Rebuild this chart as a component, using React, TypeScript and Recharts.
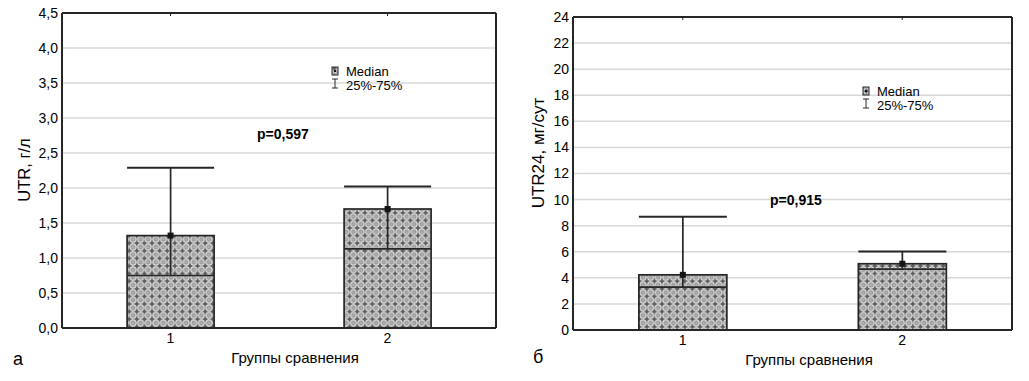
import { Bar, BarChart, CartesianGrid, XAxis, YAxis } from "recharts";

const groups = ["1", "2"];

// UTR, g/l
const utrUpper = [1.32, 1.7];
const utrMedian = [0.75, 1.13];
const utrWhisker = [2.29, 2.02];
const utrTicks = [0, 0.5, 1, 1.5, 2, 2.5, 3, 3.5, 4, 4.5];

// UTR24, mg/day
const utr24Upper = [4.23, 5.08];
const utr24Median = [3.28, 4.67];
const utr24Whisker = [8.69, 6.02];
const utr24Ticks = [0, 2, 4, 6, 8, 10, 12, 14, 16, 18, 20, 22, 24];

const font = "'Liberation Sans', Arial, sans-serif";
const ink = "#262626";
const grid = "#d8d8d8";

type Row = { g: string; upper: number; median: number; whisker: number };

const build = (u: number[], m: number[], w: number[]): Row[] =>
  groups.map((g, i) => ({ g, upper: u[i], median: m[i], whisker: w[i] }));

const comma = (v: number, digits: number) => v.toFixed(digits).replace(".", ",");

function boxShape(patternId: string) {
  return (props: any) => {
    const { x, y, width, height, payload } = props;
    const base = y + height;
    const k = height / payload.upper;
    const yMed = base - payload.median * k;
    const yTop = base - payload.whisker * k;
    const cx = x + width / 2;
    return (
      <g>
        <rect x={x} y={y} width={width} height={height} fill={`url(#${patternId})`} stroke={ink} strokeWidth={1.7} />
        <line x1={x} x2={x + width} y1={yMed} y2={yMed} stroke={ink} strokeWidth={1.7} />
        <line x1={cx} x2={cx} y1={yTop} y2={yMed} stroke={ink} strokeWidth={1.7} />
        <line x1={x} x2={x + width} y1={yTop} y2={yTop} stroke={ink} strokeWidth={2} />
        <rect x={cx - 3} y={y - 3} width={6} height={6} fill="#151515" />
      </g>
    );
  };
}

function Pattern({ id }: { id: string }) {
  return (
    <pattern id={id} width={7.6} height={7.6} patternUnits="userSpaceOnUse">
      <rect width={7.6} height={7.6} fill="#5e5e5e" />
      <circle cx={3.8} cy={3.8} r={3} fill="#a4a4a4" stroke="#efefef" strokeWidth={1} />
      <polygon points="3.8,2.5 5.1,3.8 3.8,5.1 2.5,3.8" fill="#f4f4f4" stroke="#555" strokeWidth={0.5} />
    </pattern>
  );
}

type PanelProps = {
  data: Row[];
  ticks: number[];
  digits: number;
  width: number;
  leftW: number;
  right: number;
  top: number;
  bottom: number;
  patternId: string;
};

function Panel({ data, ticks, digits, width, leftW, right, top, bottom, patternId }: PanelProps) {
  const max = ticks[ticks.length - 1];
  const tickFont = { fontFamily: font, fontSize: 14, fill: "#000" };
  return (
    <BarChart
      width={width}
      height={381}
      data={data}
      margin={{ top: top - 1, bottom: 0, left: 0, right: right - 1 }}
      barCategoryGap="30%"
    >
      <defs>
        <Pattern id={patternId} />
      </defs>
      <CartesianGrid xAxisId="b" yAxisId="l" vertical={false} stroke={grid} strokeWidth={1.5} />
      <XAxis
        xAxisId="b"
        dataKey="g"
        height={bottom}
        stroke={ink}
        axisLine={{ stroke: ink, strokeWidth: 2 }}
        tickLine={false}
        tickSize={0}
        tickMargin={5}
        tick={tickFont}
      />
      <XAxis
        xAxisId="t"
        dataKey="g"
        orientation="top"
        height={1}
        mirror
        stroke={ink}
        axisLine={{ stroke: ink, strokeWidth: 2 }}
        tickLine={{ stroke: ink }}
        tickSize={3}
        tickFormatter={() => ""}
      />
      <YAxis
        yAxisId="l"
        width={leftW}
        domain={[0, max]}
        ticks={ticks}
        interval={0}
        stroke={ink}
        axisLine={{ stroke: ink, strokeWidth: 2 }}
        tickLine={false}
        tickSize={0}
        tickMargin={4}
        tick={tickFont}
        tickFormatter={(v) => comma(Number(v), digits)}
      />
      <YAxis
        yAxisId="r"
        orientation="right"
        width={1}
        domain={[0, max]}
        ticks={ticks}
        interval={0}
        mirror
        stroke={ink}
        axisLine={{ stroke: ink, strokeWidth: 2 }}
        tickLine={{ stroke: ink }}
        tickSize={3}
        tickFormatter={() => ""}
      />
      <Bar
        xAxisId="b"
        yAxisId="l"
        dataKey="upper"
        isAnimationActive={false}
        shape={boxShape(patternId)}
      />
    </BarChart>
  );
}

function Legend({ x, y }: { x: number; y: number }) {
  return (
    <g fontFamily={font} fontSize={13} fill="#000">
      <rect x={x} y={y - 9} width={6} height={8} fill="url(#patL)" stroke={ink} strokeWidth={1} />
      <rect x={x + 2} y={y - 6} width={2} height={2} fill="#111" />
      <text x={x + 14} y={y}>Median</text>
      <line x1={x + 3} x2={x + 3} y1={y + 3} y2={y + 12} stroke={ink} strokeWidth={1} />
      <line x1={x} x2={x + 6} y1={y + 3} y2={y + 3} stroke={ink} strokeWidth={1} />
      <line x1={x} x2={x + 6} y1={y + 12} y2={y + 12} stroke={ink} strokeWidth={1} />
      <text x={x + 14} y={y + 14}>25%-75%</text>
    </g>
  );
}

export default function App() {
  return (
    <div style={{ position: "absolute", left: 0, top: 0, width: 1029, height: 381, background: "#fff" }}>
      <div style={{ position: "absolute", left: 0, top: 0 }}>
        <Panel
          data={build(utrUpper, utrMedian, utrWhisker)}
          ticks={utrTicks}
          digits={1}
          width={520}
          leftW={62}
          right={25}
          top={14}
          bottom={53}
          patternId="patL"
        />
      </div>
      <div style={{ position: "absolute", left: 510, top: 0 }}>
        <Panel
          data={build(utr24Upper, utr24Median, utr24Whisker)}
          ticks={utr24Ticks}
          digits={0}
          width={519}
          leftW={63}
          right={18}
          top={18}
          bottom={51}
          patternId="patR"
        />
      </div>
      <svg
        width={1029}
        height={381}
        style={{ position: "absolute", left: 0, top: 0, pointerEvents: "none" }}
      >
        <g fontFamily={font} fill="#000">
          <text x={24} y={170} fontSize={16.5} textAnchor="middle" dominantBaseline="central" transform="rotate(-90 24 170)">
            UTR, г/л
          </text>
          <text x={538} y={153} fontSize={17} textAnchor="middle" dominantBaseline="central" transform="rotate(-90 538 153)">
            UTR24, мг/сут
          </text>
          <text x={295} y={363} fontSize={15} textAnchor="middle">Группы сравнения</text>
          <text x={809} y={365} fontSize={15} textAnchor="middle">Группы сравнения</text>
          <text x={13} y={365} fontSize={18}>а</text>
          <text x={533} y={363} fontSize={18}>б</text>
          <text x={257} y={139} fontSize={14} fontWeight="bold">p=0,597</text>
          <text x={770} y={205} fontSize={14} fontWeight="bold">p=0,915</text>
        </g>
        <Legend x={332} y={76} />
        <Legend x={863} y={96} />
      </svg>
    </div>
  );
}
